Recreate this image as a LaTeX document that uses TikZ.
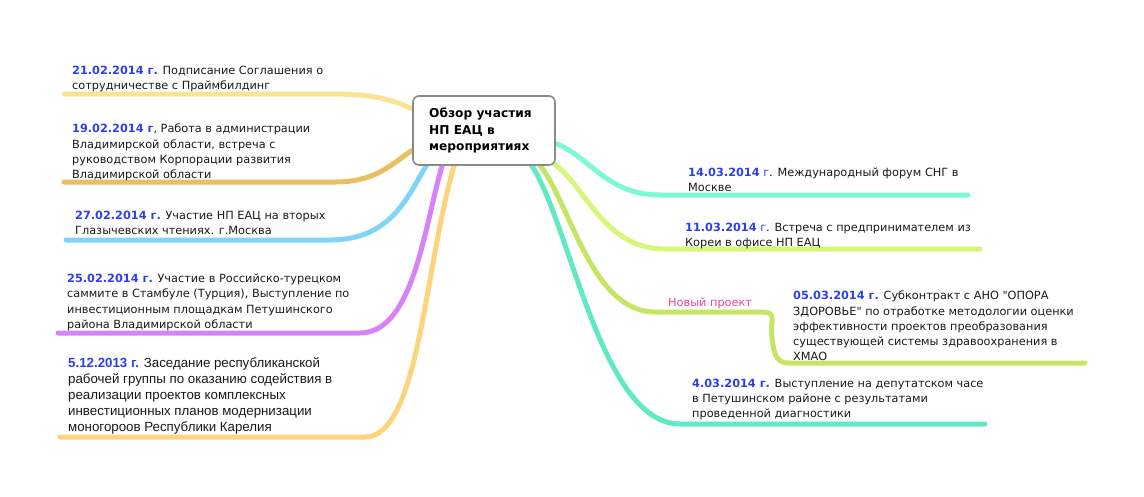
\documentclass[tikz,border=0pt]{standalone}
\usepackage{fontspec}
\setmainfont{DejaVu Sans}[Ligatures=TeXOff]
\newfontfamily\arialish{Liberation Sans}[Ligatures=TeXOff]
\definecolor{dateblue}{HTML}{2B3FF0}
\definecolor{cA}{HTML}{FCE391}
\definecolor{cB}{HTML}{EABF62}
\definecolor{cC}{HTML}{80D4F8}
\definecolor{cD}{HTML}{D683F7}
\definecolor{cE}{HTML}{FDD47E}
\definecolor{cF}{HTML}{7DF9D6}
\definecolor{cG}{HTML}{D8F57C}
\definecolor{cH}{HTML}{C6E565}
\definecolor{cI}{HTML}{60E9C2}
\definecolor{pinklbl}{HTML}{F0409A}
\definecolor{boxgray}{HTML}{8A8A8A}
\newcommand{\dt}[1]{\textcolor{dateblue}{\bfseries #1}}
\tikzset{
  branch/.style={line width=5pt, line cap=round},
  lbl/.style={anchor=north west, inner sep=0pt, align=left, font=\fontsize{11.3}{15.2}\selectfont, text=black!90},
  mainbox/.style={draw=boxgray, line width=1.6pt, rounded corners=6pt, fill=white, minimum width=142pt, minimum height=69pt, inner sep=0pt},
}
\begin{document}
\begin{tikzpicture}[x=1pt,y=-1pt]
\useasboundingbox (0,0) rectangle (1144,496);
% anchor points
\coordinate (a0) at (416,111);
\coordinate (a1) at (330,94);
\coordinate (a2) at (64,94);
\coordinate (b0) at (416,148);
\coordinate (b1) at (335,182);
\coordinate (b2) at (64,182);
\coordinate (c0) at (428,163);
\coordinate (c1) at (330,240);
\coordinate (c2) at (66,240);
\coordinate (d0) at (443,163);
\coordinate (d1) at (360,333);
\coordinate (d2) at (58,333);
\coordinate (e0) at (455,163);
\coordinate (e1) at (365,437);
\coordinate (e2) at (60,437);
\coordinate (f0) at (552,142);
\coordinate (f1) at (660,195);
\coordinate (f2) at (968,195);
\coordinate (g0) at (548,160);
\coordinate (g1) at (665,249);
\coordinate (g2) at (980,249);
\coordinate (h0) at (538,163);
\coordinate (h1) at (655,312);
\coordinate (h2) at (760,312);
\coordinate (h3) at (790,363);
\coordinate (h4) at (1085,363);
\coordinate (i0) at (530,163);
\coordinate (i1) at (680,424);
\coordinate (i2) at (985,424);
% branches
\draw[branch, cA] (a2) -- (a1) .. controls (375,94) and (395,100) .. (a0);
\draw[branch, cB] (b2) -- (b1) .. controls (380,182) and (395,160) .. (b0);
\draw[branch, cC] (c2) -- (c1) .. controls (395,240) and (410,190) .. (c0);
\draw[branch, cD] (d2) -- (d1) .. controls (415,333) and (425,220) .. (d0);
\draw[branch, cE] (e2) -- (e1) .. controls (420,437) and (425,260) .. (e0);
\draw[branch, cF] (f0) .. controls (590,155) and (605,195) .. (f1) -- (f2);
\draw[branch, cG] (g0) .. controls (585,180) and (600,249) .. (g1) -- (g2);
\draw[branch, cH] (h0) .. controls (570,200) and (590,312) .. (h1) -- (h2) .. controls (778,312) and (770,318) .. (772,337) .. controls (774,358) and (778,363) .. (h3) -- (h4);
\draw[branch, cI] (i0) .. controls (570,220) and (600,424) .. (i1) -- (i2);
% central node
\node[mainbox] (root) at (484,130.5) {};
\node[anchor=north west, inner sep=0pt, align=left, font=\fontsize{12.2}{16.5}\selectfont\bfseries] (roottxt) at (429,108) {Обзор участия\\НП ЕАЦ в\\мероприятиях};
% labels
\node[lbl] (t1) at (72,66) {\dt{21.02.2014 г.} Подписание Соглашения о\\сотрудничестве с Праймбилдинг};
\node[lbl] (t2) at (72,124) {\dt{19.02.2014 г}, Работа в администрации\\Владимирской области, встреча с\\руководством Корпорации развития\\Владимирской области};
\node[lbl] (t3) at (75,211) {\dt{27.02.2014 г.} Участие НП ЕАЦ на вторых\\Глазычевских чтениях. г.Москва};
\node[lbl] (t4) at (67,274) {\dt{25.02.2014 г.} Участие в Российско-турецком\\саммите в Стамбуле (Турция), Выступление по\\инвестиционным площадкам Петушинского\\района Владимирской области};
\node[lbl, font=\fontsize{13.3}{15.9}\arialish] (t5) at (68,357.5) {\dt{5.12.2013 г.} Заседание республиканской\\рабочей группы по оказанию содействия в\\реализации проектов комплексных\\инвестиционных планов модернизации\\моногороов Республики Карелия};
\node[lbl] (t6) at (688,168) {\textcolor{dateblue}{\bfseries 14.03.2014} \textcolor{dateblue}{г}. Международный форум СНГ в\\Москве};
\node[lbl] (t7) at (685,223) {\textcolor{dateblue}{\bfseries 11.03.2014} \textcolor{dateblue}{г}. Встреча с предпринимателем из\\Кореи в офисе НП ЕАЦ};
\node[lbl] (t8) at (793,291) {\dt{05.03.2014 г.} Субконтракт с АНО "ОПОРА\\ЗДОРОВЬЕ" по отработке методологии оценки\\эффективности проектов преобразования\\существующей системы здравоохранения в\\ХМАО};
\node[lbl] (t9) at (692,379) {\dt{4.03.2014 г.} Выступление на депутатском часе\\в Петушинском районе с результатами\\проведенной диагностики};
\node[anchor=west, inner sep=0pt, text=pinklbl, font=\fontsize{11.3}{13}\selectfont] (np) at (668,303) {Новый проект};
\end{tikzpicture}
\end{document}
